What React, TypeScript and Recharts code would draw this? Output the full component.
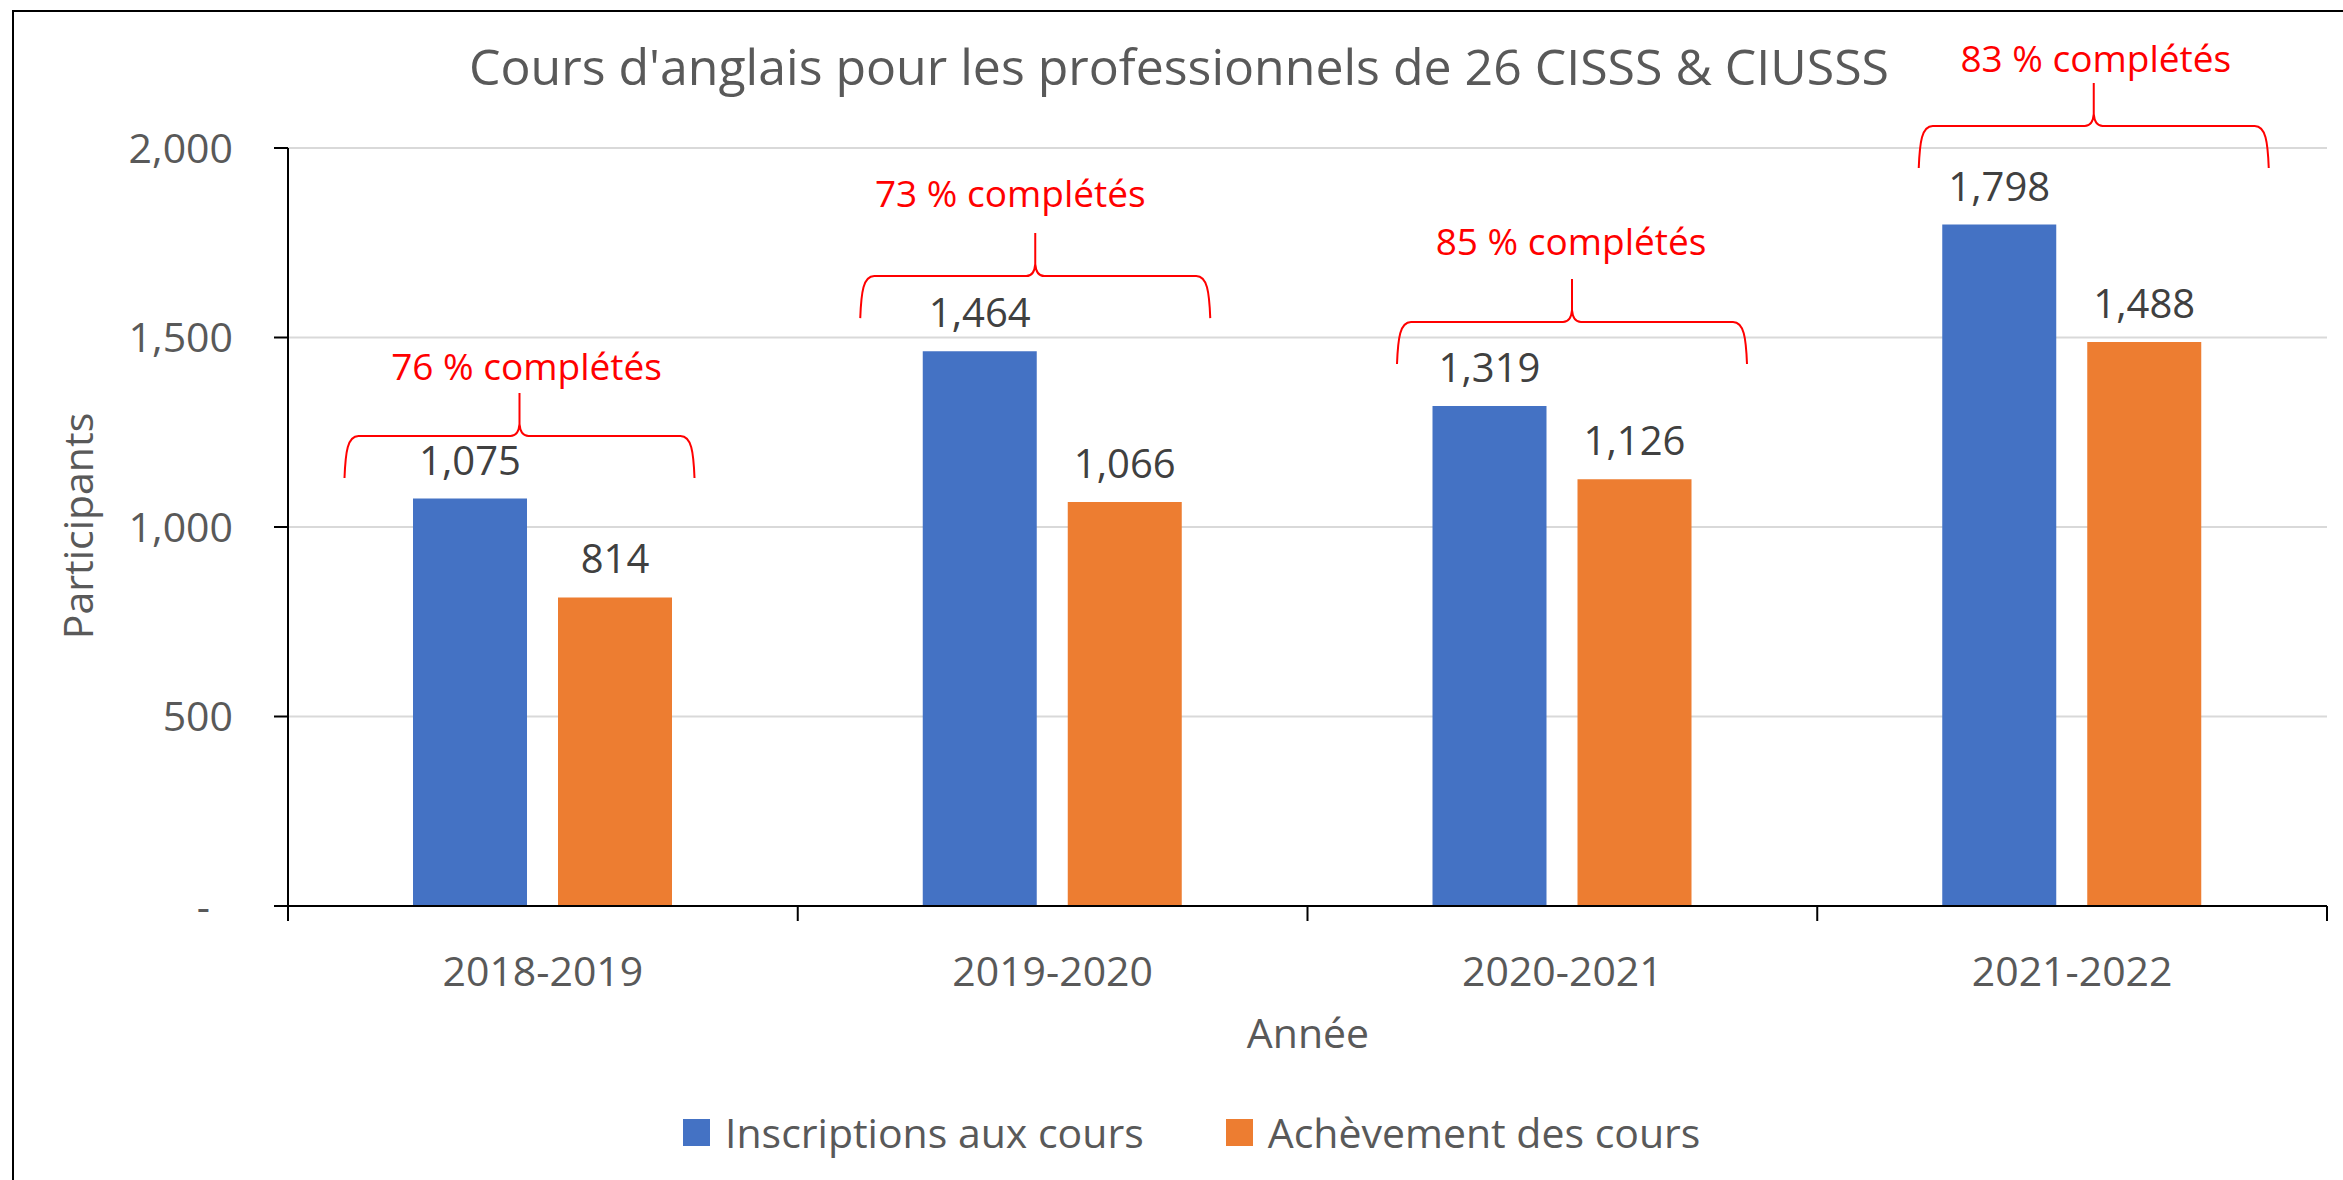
import { BarChart, Bar, XAxis, YAxis, CartesianGrid, LabelList, Legend, Customized } from "recharts";

const years = ["2018-2019", "2019-2020", "2020-2021", "2021-2022"];
const inscriptions = [1075, 1464, 1319, 1798];
const achevements = [814, 1066, 1126, 1488];
const completionPct = [76, 73, 85, 83];
const yTicks = [0, 500, 1000, 1500, 2000];

// where the hand-drawn braces sit: value of the brace line, then pixel nudges
const braceLevel = [1240, 1662, 1541, 2058];
const braceShift = [-23, -17, 10, 22];
const noteShift = [7, -25, -1, 2];
const noteRise = [56, 69, 67, 54];

const data = years.map((year, i) => ({
  year,
  inscriptions: inscriptions[i],
  achevement: achevements[i],
}));

const FONT = "'Open Sans', sans-serif";
const GRAY = "#595959";
const BLUE = "#4472C4";
const ORANGE = "#ED7D31";
const BAR_SIZE = 114;
const BAR_GAP = 31;

const fmt = (v: number) => v.toLocaleString("en-US");

const YTick = (props: any) => {
  const { x, y, payload } = props;
  const isZero = payload.value === 0;
  return (
    <text x={isZero ? x - 23 : x} y={y} dy="0.355em" textAnchor="end" fill={GRAY} fontSize={41}>
      {isZero ? "-" : fmt(payload.value)}
    </text>
  );
};

const XTick = (props: any) => {
  const { x, y, payload, index } = props;
  const half = payload.offset ?? 255;
  return (
    <g>
      <line x1={x - half} x2={x - half} y1={y} y2={y + 15} stroke="#000" strokeWidth={2} />
      {index === years.length - 1 && (
        <line x1={x + half} x2={x + half} y1={y} y2={y + 15} stroke="#000" strokeWidth={2} />
      )}
      <text x={x} y={y + 80} textAnchor="middle" fill={GRAY} fontSize={41}>
        {payload.value}
      </text>
    </g>
  );
};

const Brace = (props: any) => {
  const { index } = props;
  const vb = props.viewBox ?? props;
  const { x, y, width, height } = vb;
  const value = Number(props.value ?? inscriptions[index]);
  const k = height / value;
  const base = y + height;
  const yH = base - braceLevel[index] * k;
  const cx = x + width + BAR_GAP / 2 + braceShift[index];
  const L = cx - 175;
  const R = cx + 175;
  const yE = yH + 42;
  const yT = yH - 43;
  const d =
    `M${L},${yE} C${L + 1},${yH + 16} ${L + 3},${yH} ${L + 14},${yH} ` +
    `L${cx - 9},${yH} Q${cx - 1},${yH} ${cx},${yH - 12} L${cx},${yT} ` +
    `M${cx},${yH - 12} Q${cx + 1},${yH} ${cx + 9},${yH} ` +
    `L${R - 14},${yH} C${R - 3},${yH} ${R - 1},${yH + 16} ${R},${yE}`;
  return (
    <g>
      <path d={d} fill="none" stroke="#FF0000" strokeWidth={2} />
      <text x={cx + noteShift[index]} y={yH - noteRise[index]} textAnchor="middle" fill="#FF0000" fontSize={37}>
        {`${completionPct[index]} % complétés`}
      </text>
    </g>
  );
};

const Titles = () => (
  <g>
    <text x={1179} y={85} textAnchor="middle" fill={GRAY} fontSize={50}>
      Cours d'anglais pour les professionnels de 26 CISSS &amp; CIUSSS
    </text>
    <text x={1308} y={1048} textAnchor="middle" fill={GRAY} fontSize={41}>
      Année
    </text>
    <text transform="translate(93,526) rotate(-90)" textAnchor="middle" fill={GRAY} fontSize={41}>
      Participants
    </text>
  </g>
);

const legendItems = [
  { label: "Inscriptions aux cours", color: BLUE },
  { label: "Achèvement des cours", color: ORANGE },
];

const LegendContent = () => (
  <div style={{ display: "flex", gap: 82, paddingLeft: 683, fontSize: 41, color: GRAY, lineHeight: "56px" }}>
    {legendItems.map((it) => (
      <div key={it.label} style={{ display: "flex", alignItems: "center", gap: 15 }}>
        <span style={{ width: 27, height: 27, background: it.color, display: "inline-block" }} />
        <span>{it.label}</span>
      </div>
    ))}
  </div>
);

export default function App() {
  return (
    <div style={{ position: "absolute", left: 0, top: 0, width: 2343, height: 1180, background: "#fff", fontFamily: FONT }}>
      <div
        style={{
          position: "absolute",
          left: 12,
          top: 10,
          right: 0,
          bottom: 0,
          borderLeft: "2px solid #000",
          borderTop: "2px solid #000",
        }}
      />
      <BarChart
        width={2343}
        height={1180}
        data={data}
        margin={{ top: 148, right: 16, left: 0, bottom: 194 }}
        barGap={BAR_GAP}
        style={{ position: "absolute", left: 0, top: 0 }}
      >
        <CartesianGrid vertical={false} stroke="#D9D9D9" strokeWidth={2} />
        <XAxis
          dataKey="year"
          height={80}
          axisLine={{ stroke: "#000", strokeWidth: 2 }}
          tickLine={false}
          tickSize={0}
          tickMargin={0}
          interval={0}
          tick={<XTick />}
        />
        <YAxis
          domain={[0, 2000]}
          ticks={yTicks}
          interval={0}
          width={288}
          axisLine={{ stroke: "#000", strokeWidth: 2 }}
          tickLine={{ stroke: "#000", strokeWidth: 2 }}
          tickSize={14}
          tickMargin={41}
          tick={<YTick />}
        />
        <Legend
          layout="horizontal"
          verticalAlign="middle"
          align="center"
          content={<LegendContent />}
          wrapperStyle={{ left: 0, top: 1104, width: 2343, height: 56 }}
        />
        <Bar dataKey="inscriptions" name="Inscriptions aux cours" fill={BLUE} barSize={BAR_SIZE} isAnimationActive={false}>
          <LabelList dataKey="inscriptions" position="top" offset={24} fill="#404040" fontSize={40} formatter={(v: any) => fmt(Number(v))} />
          <LabelList dataKey="inscriptions" content={<Brace />} />
        </Bar>
        <Bar dataKey="achevement" name="Achèvement des cours" fill={ORANGE} barSize={BAR_SIZE} isAnimationActive={false}>
          <LabelList dataKey="achevement" position="top" offset={24} fill="#404040" fontSize={40} formatter={(v: any) => fmt(Number(v))} />
        </Bar>
        <Customized component={<Titles />} />
      </BarChart>
    </div>
  );
}
